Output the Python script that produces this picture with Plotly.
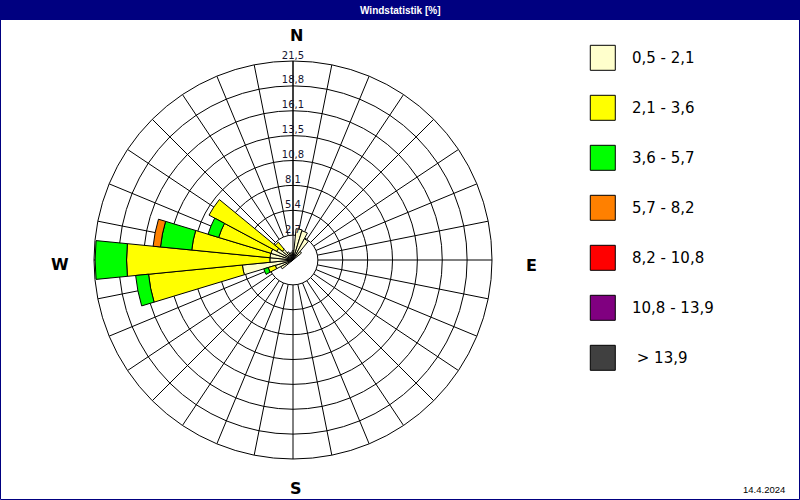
import plotly.graph_objects as go

# ---------------- data ----------------
directions = [i * 11.25 for i in range(32)]          # sector centres, degrees (N = 0, clockwise)
speed_classes = ["0,5 - 2,1", "2,1 - 3,6", "3,6 - 5,7", "5,7 - 8,2",
                 "8,2 - 10,8", "10,8 - 13,9", " > 13,9"]
class_colors = ["#FFFFCC", "#FFFF00", "#00FF00", "#FF8000", "#FF0000", "#800080", "#404040"]

#           N                                   E                                       S                                       W
ws_05_21 = [1.0, 3.4, 3.3, 2.6, 1.2, 0.0, 0.0, 0.0, 0.0, 0.0, 0.0, 0.0, 0.0, 0.0, 0.0, 0.0,
            0.0, 0.0, 0.0, 0.0, 0.0, 1.5, 2.0, 5.5, 2.5, 2.5, 2.5, 2.0, 1.5, 1.0, 0.8, 0.8]
ws_21_36 = [0.0, 0.0, 0.0, 0.0, 0.0, 0.0, 0.0, 0.0, 0.0, 0.0, 0.0, 0.0, 0.0, 0.0, 0.0, 0.0,
            0.0, 0.0, 0.0, 0.0, 0.0, 0.0, 0.8, 10.2, 15.5, 8.5, 5.9, 8.3, 1.0, 0.0, 0.0, 0.0]
ws_36_57 = [0.0, 0.0, 0.0, 0.0, 0.0, 0.0, 0.0, 0.0, 0.0, 0.0, 0.0, 0.0, 0.0, 0.0, 0.0, 0.0,
            0.0, 0.0, 0.0, 0.0, 0.0, 0.0, 0.5, 1.4, 3.4, 3.4, 1.2, 0.0, 0.0, 0.0, 0.0, 0.0]
ws_57_82 = [0.0, 0.0, 0.0, 0.0, 0.0, 0.0, 0.0, 0.0, 0.0, 0.0, 0.0, 0.0, 0.0, 0.0, 0.0, 0.0,
            0.0, 0.0, 0.0, 0.0, 0.0, 0.0, 0.0, 0.0, 0.0, 0.8, 0.0, 0.0, 0.0, 0.0, 0.0, 0.0]
ws_82_108 = [0.0] * 32
ws_108_139 = [0.0] * 32
ws_139_up = [0.0] * 32
series = [ws_05_21, ws_21_36, ws_36_57, ws_57_82, ws_82_108, ws_108_139, ws_139_up]

r_max = 21.52
ring_values = [r_max * i / 8 for i in range(1, 9)]
ring_labels = ["2,7", "5,4", "8,1", "10,8", "13,5", "16,1", "18,8", "21,5"]
cardinals = ["N", "E", "S", "W"]
date_text = "14.4.2024"
title_text = "Windstatistik [%]"

# ---------------- figure ----------------
W, H = 800, 500
cx, cy, rad = 293, 260, 199

def px(x):
    return x / W

def py(y):
    return 1 - y / H

fig = go.Figure()

# grid spokes (start at the first ring, as in the original)
sp_r, sp_t = [], []
for d in directions:
    sp_r += [ring_values[0], r_max, None]
    sp_t += [d, d, None]
fig.add_trace(go.Scatterpolar(r=sp_r, theta=sp_t, mode="lines",
                              line=dict(color="black", width=1),
                              subplot="polar", showlegend=False, hoverinfo="skip"))
# N axis line down to the centre
fig.add_trace(go.Scatterpolar(r=[0, r_max], theta=[0, 0], mode="lines",
                              line=dict(color="black", width=1),
                              subplot="polar", showlegend=False, hoverinfo="skip"))

# wind-rose bars
for name, vals, col in zip(speed_classes, series, class_colors):
    fig.add_trace(go.Barpolar(r=vals, theta=directions, width=[11.25] * len(directions),
                              name=name, marker=dict(color=col, line=dict(color="black", width=1)),
                              subplot="polar2", showlegend=False))

# ring labels along the N axis
fig.add_trace(go.Scatterpolar(r=ring_values, theta=[0] * len(ring_values), mode="text",
                              text=ring_labels, textposition="top center",
                              textfont=dict(family="DejaVu Sans", size=10, color="#141430"),
                              cliponaxis=False, subplot="polar2", showlegend=False,
                              hoverinfo="skip"))

# legend boxes
fig.add_trace(go.Scatter(x=[0] * len(speed_classes), y=list(range(len(speed_classes))),
                         mode="markers",
                         marker=dict(symbol="square", size=25, color=class_colors,
                                     line=dict(color="black", width=1)),
                         xaxis="x", yaxis="y", showlegend=False, hoverinfo="skip"))

dom_x = [px(cx - rad), px(cx + rad)]
dom_y = [py(cy + rad), py(cy - rad)]

common_radial = dict(range=[0, r_max], showticklabels=False, ticks="", showline=False)
fig.update_layout(
    width=W, height=H, margin=dict(l=0, r=0, t=0, b=0),
    paper_bgcolor="white", plot_bgcolor="rgba(0,0,0,0)", showlegend=False,
    polar=dict(domain=dict(x=dom_x, y=dom_y), bgcolor="white",
               radialaxis=dict(**common_radial, tickvals=ring_values, showgrid=True,
                               gridcolor="black", gridwidth=1),
               angularaxis=dict(rotation=90, direction="clockwise", showgrid=False,
                                showticklabels=False, ticks="", showline=True,
                                linecolor="black", linewidth=1)),
    polar2=dict(domain=dict(x=dom_x, y=dom_y), bgcolor="rgba(0,0,0,0)", barmode="stack",
                bargap=0,
                radialaxis=dict(**common_radial, showgrid=False),
                angularaxis=dict(rotation=90, direction="clockwise", showgrid=False,
                                 showticklabels=False, ticks="", showline=False)),
    xaxis=dict(domain=[px(580), 1.0], range=[-0.838, 7.25], visible=False, fixedrange=True),
    yaxis=dict(domain=[py(382.8), py(32.8)], range=[6.5, -0.5], visible=False, fixedrange=True),
)

shapes = [
    dict(type="rect", xref="paper", yref="paper", x0=0, x1=1, y0=py(20), y1=1,
         fillcolor="#000080", line=dict(width=0), layer="below"),
    dict(type="rect", xref="paper", yref="paper", x0=px(0.5), x1=px(799.5), y0=py(499.5), y1=1,
         fillcolor="rgba(0,0,0,0)", line=dict(color="#000080", width=1)),
]
annotations = [
    dict(text="<b>%s</b>" % title_text, x=0.5, y=py(10), xref="paper", yref="paper",
         showarrow=False, xanchor="center", yanchor="middle",
         font=dict(family="Liberation Sans", size=10, color="white")),
    dict(text=date_text, x=px(764), y=py(489), xref="paper", yref="paper", showarrow=False,
         xanchor="center", yanchor="middle",
         font=dict(family="Liberation Sans", size=9.5, color="black")),
]
for lab, (x, y) in zip(cardinals, [(296, 36), (531, 265), (296, 488), (60, 264)]):
    annotations.append(dict(text="<b>%s</b>" % lab, x=px(x), y=py(y), xref="paper", yref="paper",
                            showarrow=False, xanchor="center", yanchor="middle",
                            font=dict(family="DejaVu Sans", size=16, color="black")))
for i, lab in enumerate(speed_classes):
    annotations.append(dict(text=lab.replace(" ", "&nbsp;", 1) if lab.startswith(" ") else lab,
                            x=1, y=i, xref="x", yref="y", showarrow=False,
                            xanchor="left", yanchor="middle",
                            font=dict(family="DejaVu Sans", size=15, color="black")))
fig.update_layout(shapes=shapes, annotations=annotations)

fig.write_html("out.html")
